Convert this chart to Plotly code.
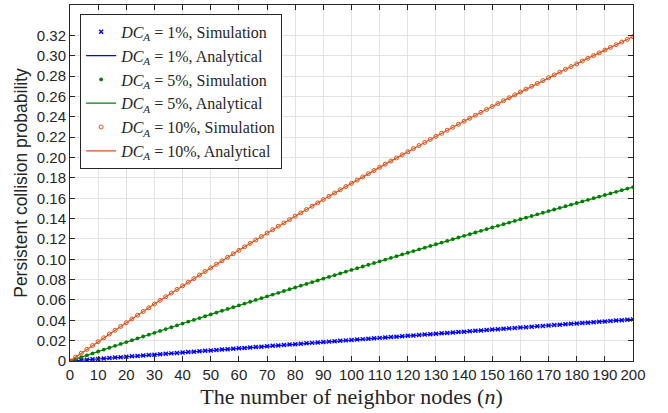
import plotly.graph_objects as go

# ---------------- data ----------------
n_sim = list(range(0, 201, 2))

sim_dc1 = [0, 0.00042, 0.00084, 0.00125, 0.00167, 0.00209, 0.00250, 0.00292, 0.00334, 0.00375,
           0.00417, 0.00459, 0.00500, 0.00542, 0.00583, 0.00625, 0.00667, 0.00708, 0.00750, 0.00791,
           0.00833, 0.00874, 0.00915, 0.00957, 0.00998, 0.01040, 0.01081, 0.01122, 0.01164, 0.01205,
           0.01246, 0.01288, 0.01329, 0.01370, 0.01411, 0.01452, 0.01494, 0.01535, 0.01576, 0.01617,
           0.01658, 0.01699, 0.01740, 0.01781, 0.01822, 0.01863, 0.01904, 0.01945, 0.01986, 0.02027,
           0.02068, 0.02109, 0.02150, 0.02191, 0.02232, 0.02273, 0.02313, 0.02354, 0.02395, 0.02436,
           0.02477, 0.02517, 0.02558, 0.02599, 0.02640, 0.02680, 0.02721, 0.02761, 0.02802, 0.02843,
           0.02883, 0.02924, 0.02964, 0.03005, 0.03045, 0.03086, 0.03126, 0.03167, 0.03207, 0.03247,
           0.03288, 0.03328, 0.03368, 0.03409, 0.03449, 0.03490, 0.03530, 0.03570, 0.03610, 0.03651,
           0.03691, 0.03731, 0.03771, 0.03811, 0.03851, 0.03892, 0.03932, 0.03972, 0.04012, 0.04052,
           0.04093]

sim_dc5 = [0, 0.00187, 0.00374, 0.00561, 0.00748, 0.00934, 0.01119, 0.01304, 0.01489, 0.01674,
           0.01858, 0.02042, 0.02226, 0.02409, 0.02592, 0.02774, 0.02957, 0.03138, 0.03320, 0.03501,
           0.03682, 0.03863, 0.04043, 0.04223, 0.04402, 0.04581, 0.04760, 0.04938, 0.05117, 0.05294,
           0.05472, 0.05649, 0.05826, 0.06002, 0.06178, 0.06354, 0.06530, 0.06705, 0.06880, 0.07054,
           0.07228, 0.07402, 0.07576, 0.07749, 0.07922, 0.08094, 0.08266, 0.08438, 0.08610, 0.08781,
           0.08952, 0.09123, 0.09293, 0.09463, 0.09633, 0.09802, 0.09971, 0.10140, 0.10308, 0.10476,
           0.10644, 0.10811, 0.10979, 0.11145, 0.11312, 0.11478, 0.11644, 0.11810, 0.11975, 0.12140,
           0.12304, 0.12469, 0.12633, 0.12796, 0.12960, 0.13123, 0.13286, 0.13448, 0.13610, 0.13772,
           0.13934, 0.14095, 0.14256, 0.14417, 0.14577, 0.14737, 0.14897, 0.15057, 0.15216, 0.15375,
           0.15533, 0.15692, 0.15850, 0.16007, 0.16165, 0.16322, 0.16479, 0.16635, 0.16791, 0.16947,
           0.17103]

sim_dc10 = [0, 0.00383, 0.00765, 0.01145, 0.01524, 0.01902, 0.02278, 0.02652, 0.03025, 0.03397,
            0.03767, 0.04136, 0.04503, 0.04869, 0.05234, 0.05597, 0.05959, 0.06320, 0.06679, 0.07036,
            0.07392, 0.07747, 0.08101, 0.08453, 0.08804, 0.09154, 0.09502, 0.09849, 0.10194, 0.10538,
            0.10881, 0.11222, 0.11563, 0.11902, 0.12239, 0.12576, 0.12910, 0.13244, 0.13577, 0.13908,
            0.14238, 0.14567, 0.14894, 0.15220, 0.15546, 0.15869, 0.16192, 0.16513, 0.16833, 0.17152,
            0.17469, 0.17785, 0.18100, 0.18414, 0.18727, 0.19038, 0.19348, 0.19657, 0.19965, 0.20272,
            0.20578, 0.20882, 0.21185, 0.21487, 0.21788, 0.22088, 0.22387, 0.22684, 0.22980, 0.23275,
            0.23569, 0.23862, 0.24154, 0.24445, 0.24735, 0.25023, 0.25310, 0.25596, 0.25881, 0.26165,
            0.26448, 0.26730, 0.27011, 0.27291, 0.27570, 0.27848, 0.28124, 0.28400, 0.28674, 0.28947,
            0.29220, 0.29491, 0.29761, 0.30030, 0.30298, 0.30566, 0.30832, 0.31097, 0.31361, 0.31624,
            0.31886]

n_ana = list(range(0, 201, 10))
ana_dc1 = [0, 0.00209, 0.00417, 0.00625, 0.00833, 0.01040, 0.01246, 0.01452, 0.01658, 0.01863,
           0.02068, 0.02273, 0.02477, 0.02680, 0.02883, 0.03086, 0.03288, 0.03490, 0.03691, 0.03892,
           0.04093]
ana_dc5 = [0, 0.00934, 0.01858, 0.02774, 0.03682, 0.04581, 0.05472, 0.06354, 0.07228, 0.08094,
           0.08952, 0.09802, 0.10644, 0.11478, 0.12304, 0.13123, 0.13934, 0.14737, 0.15533, 0.16322,
           0.17103]
ana_dc10 = [0, 0.01902, 0.03767, 0.05597, 0.07392, 0.09154, 0.10881, 0.12576, 0.14238, 0.15869,
            0.17469, 0.19038, 0.20578, 0.22088, 0.23569, 0.25023, 0.26448, 0.27848, 0.29220, 0.30566,
            0.31886]

x_ticks = list(range(0, 201, 10))
y_ticks = [i * 0.02 for i in range(17)]
y_ticktext = ["0"] + ["%.2f" % v for v in y_ticks[1:]]

BLUE = "#0000ff"
GREEN = "#008000"
ORANGE = "#d95319"

def lbl(p, kind):
    return "<i>DC</i><sub><i>A</i></sub> = %s%%, %s" % (p, kind)

fig = go.Figure()
fig.add_trace(go.Scatter(x=n_sim, y=sim_dc1, mode="markers", name=lbl(1, "Simulation"),
                         marker=dict(symbol="x-thin", size=4, color=BLUE, line=dict(width=1.4, color=BLUE))))
fig.add_trace(go.Scatter(x=n_ana, y=ana_dc1, mode="lines", name=lbl(1, "Analytical"),
                         line=dict(color=BLUE, width=1.2)))
fig.add_trace(go.Scatter(x=n_sim, y=sim_dc5, mode="markers", name=lbl(5, "Simulation"),
                         marker=dict(symbol="circle", size=3.8, color=GREEN)))
fig.add_trace(go.Scatter(x=n_ana, y=ana_dc5, mode="lines", name=lbl(5, "Analytical"),
                         line=dict(color=GREEN, width=1.2)))
fig.add_trace(go.Scatter(x=n_sim, y=sim_dc10, mode="markers", name=lbl(10, "Simulation"),
                         marker=dict(symbol="circle-open", size=4, color=ORANGE, line=dict(width=1, color=ORANGE))))
fig.add_trace(go.Scatter(x=n_ana, y=ana_dc10, mode="lines", name=lbl(10, "Analytical"),
                         line=dict(color=ORANGE, width=1.2)))

axis_common = dict(showline=True, linecolor="#262626", linewidth=1, mirror="ticks",
                   ticks="inside", ticklen=5, tickcolor="#262626", automargin=False,
                   showgrid=True, gridcolor="#e3e3e3", gridwidth=1, zeroline=False,
                   tickfont=dict(family="Liberation Sans, Arial", size=15, color="#262626"))

fig.update_layout(
    width=668, height=413,
    margin=dict(l=70, r=35, t=5, b=52),
    paper_bgcolor="white", plot_bgcolor="white",
    showlegend=True,
    legend=dict(x=0.018, y=0.975, xanchor="left", yanchor="top",
                bgcolor="white", bordercolor="#262626", borderwidth=1,
                font=dict(family="Liberation Serif, Times New Roman, serif", size=16, color="#262626"),
                tracegroupgap=0, itemwidth=30),
    xaxis=dict(range=[0, 200], tickvals=x_ticks, ticktext=[str(v) for v in x_ticks],
               title=dict(text="The number of neighbor nodes (<i>n</i>)", standoff=6,
                          font=dict(family="Liberation Serif, Times New Roman, serif", size=22, color="#262626")),
               **axis_common),
    yaxis=dict(range=[0, 0.35], tickvals=y_ticks, ticktext=y_ticktext,
               title=dict(text="Persistent collision probability", standoff=4,
                          font=dict(family="Liberation Sans, Arial", size=17.5, color="#262626")),
               **axis_common),
)

fig.write_html("out.html", config={"displayModeBar": False},
               post_script="document.body.style.margin='0px';")
